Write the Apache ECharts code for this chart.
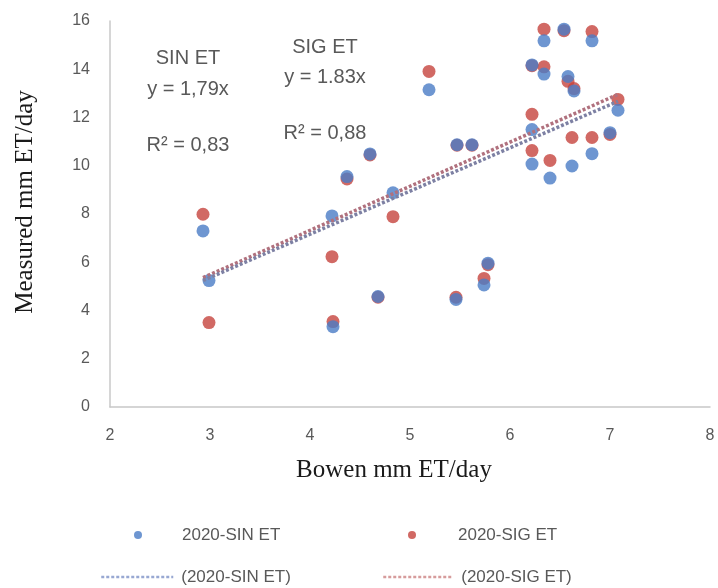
<!DOCTYPE html>
<html>
<head>
<meta charset="utf-8">
<script src="https://cdn.jsdelivr.net/npm/echarts@6/dist/echarts.min.js"></script>
<style>
html,body{margin:0;padding:0;background:#fff;}
#chart{width:718px;height:588px;}
</style>
</head>
<body>
<div id="chart"></div>
<script>
// Bowen-ratio ET (x) and measured ET (y), mm ET/day
const bowen = [2.93, 2.99, 4.22, 4.23, 4.37, 4.60, 4.68, 4.83, 5.19, 5.47, 5.62, 5.46, 5.74, 5.78,
               6.22, 6.34, 6.34, 6.54, 6.82, 6.58, 6.64, 6.22, 6.22, 6.40, 6.62, 6.82, 7.00, 7.08];
const sinET = [7.30, 5.24, 7.92, 3.33, 9.55, 10.49, 4.58, 8.88, 13.15, 10.87, 10.87, 4.46, 5.06, 5.96,
               14.18, 13.80, 15.18, 15.66, 15.18, 13.70, 13.10, 11.50, 10.07, 9.49, 9.99, 10.50, 11.37, 12.30];
const sigET = [7.99, 3.50, 6.23, 3.54, 9.45, 10.45, 4.55, 7.89, 13.91, 10.85, 10.85, 4.55, 5.33, 5.90,
               14.15, 14.10, 15.66, 15.60, 15.56, 13.50, 13.20, 12.13, 10.63, 10.22, 11.17, 11.17, 11.30, 12.75];

// Trend lines through the origin (y = a·x)
const sinSlope = 1.79;
const sigSlope = 1.83;
const sinR2 = '0,83';
const sigR2 = '0,88';

// Axis ranges / ticks
const xMin = 2, xMax = 8, xStep = 1;
const yMin = 0, yMax = 16, yStep = 2;

const seriesNames = ['2020-SIN ET', '2020-SIG ET'];
const trendNames = ['(2020-SIN ET)', '(2020-SIG ET)'];

const bMin = Math.min(...bowen), bMax = Math.max(...bowen);
const pts = (ys) => bowen.map((x, i) => [x, ys[i]]);
const trend = (a) => [[bMin, a * bMin], [bMax, a * bMax]];

const sans = 'Liberation Sans, Arial, sans-serif';
const serif = 'Liberation Serif, Times New Roman, serif';
const grey = '#595959';

const chart = echarts.init(document.getElementById('chart'));

const txt = (padLeft) => ({color: grey, fontFamily: sans, fontSize: 17, lineHeight: 20, padding: [0, 0, 0, padLeft]});
const legendBase = {orient: 'horizontal', padding: 0, itemGap: 0, selectedMode: false};

const fmt = (a, sep) => String(a).replace('.', sep);

chart.setOption({
  animation: false,
  backgroundColor: '#ffffff',
  grid: {left: 110, right: 8, top: 21, bottom: 181, containLabel: false},
  xAxis: {
    type: 'value', min: xMin, max: xMax, interval: xStep,
    name: 'Bowen mm ET/day', nameLocation: 'middle', nameGap: 51,
    nameTextStyle: {fontFamily: serif, fontSize: 25, color: '#1a1a1a', padding: [0, 32, 0, 0]},
    axisLine: {show: true, onZero: false, lineStyle: {color: '#c8c8c8', width: 1.5}},
    axisTick: {show: false},
    axisLabel: {color: grey, fontFamily: sans, fontSize: 16, margin: 21},
    splitLine: {show: false}
  },
  yAxis: {
    type: 'value', min: yMin, max: yMax, interval: yStep,
    name: 'Measured mm ET/day', nameLocation: 'middle', nameGap: 72,
    nameTextStyle: {fontFamily: serif, fontSize: 25, color: '#1a1a1a', padding: [0, 0, 0, 24]},
    axisLine: {show: true, lineStyle: {color: '#c8c8c8', width: 1.5}},
    axisTick: {show: false},
    axisLabel: {color: grey, fontFamily: sans, fontSize: 16, margin: 20},
    splitLine: {show: false}
  },
  legend: [
    Object.assign({}, legendBase, {left: 134, top: 525, itemWidth: 8, itemHeight: 8,
      textStyle: txt(35), data: [{name: seriesNames[0], icon: 'circle'}]}),
    Object.assign({}, legendBase, {left: 408, top: 525, itemWidth: 8, itemHeight: 8,
      textStyle: txt(37), data: [{name: seriesNames[1], icon: 'circle'}]}),
    Object.assign({}, legendBase, {left: 100, top: 567, itemWidth: 72, itemHeight: 8,
      textStyle: txt(3), itemStyle: {opacity: 0},
      lineStyle: {width: 2.5, color: '#98a8d2'}, data: [trendNames[0]]}),
    Object.assign({}, legendBase, {left: 382, top: 567, itemWidth: 70, itemHeight: 8,
      textStyle: txt(3), itemStyle: {opacity: 0},
      lineStyle: {width: 2.5, color: '#d69c9c'}, data: [trendNames[1]]})
  ],
  series: [
    {name: seriesNames[1], type: 'scatter', data: pts(sigET), symbolSize: 13,
     itemStyle: {color: '#c6433d'}},
    {name: seriesNames[0], type: 'scatter', data: pts(sinET), symbolSize: 13,
     itemStyle: {color: '#4a7cc6'}},
    {name: trendNames[1], type: 'line', data: trend(sigSlope), symbol: 'none', showSymbol: false,
     itemStyle: {color: '#c98a94'},
     lineStyle: {color: '#b0717e', width: 3.5, type: [3, 2], cap: 'butt'}},
    {name: trendNames[0], type: 'line', data: trend(sinSlope), symbol: 'none', showSymbol: false,
     itemStyle: {color: '#93a3cc'},
     lineStyle: {color: '#7d80a3', width: 3.5, type: [3, 2], cap: 'butt'}}
  ],
  graphic: (function () {
    const ann = (t, cx, cy) => ({
      type: 'text', x: cx, y: cy,
      style: {text: t, fill: grey, font: '20px ' + sans, align: 'center', verticalAlign: 'middle'}
    });
    return [
      ann('SIN ET', 188, 58),
      ann('y = ' + fmt(sinSlope, ',') + 'x', 188, 89),
      ann('R² = ' + sinR2, 188, 145),
      ann('SIG ET', 325, 47),
      ann('y = ' + fmt(sigSlope, '.') + 'x', 325, 77),
      ann('R² = ' + sigR2, 325, 133)
    ];
  })()
});
</script>
</body>
</html>
